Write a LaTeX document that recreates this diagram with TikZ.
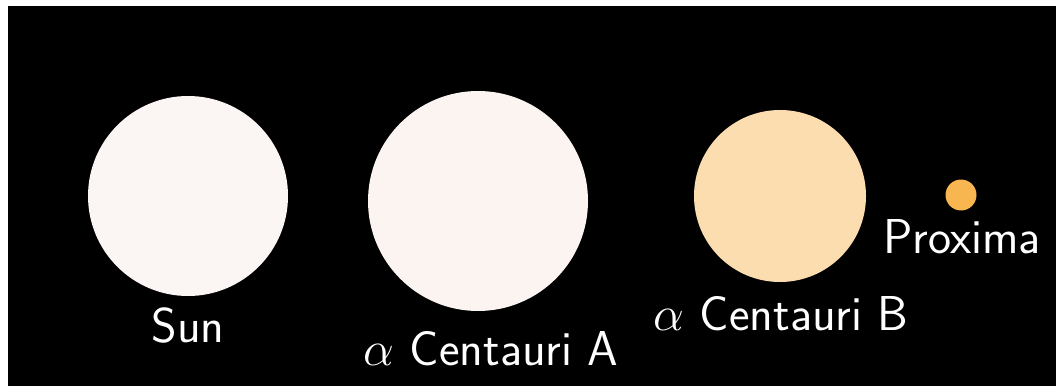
\RequirePackage{fix-cm}
\documentclass[tikz,border=0pt]{standalone}
\usepackage{fontspec}
\begin{document}
\begin{tikzpicture}[x=1pt,y=1pt,
  star/.style={circle,inner sep=0pt,minimum size=#1,draw=none},
  lbl/.style={anchor=base,text=white,font=\sffamily\fontsize{49}{52}\selectfont,inner sep=0pt}]
\useasboundingbox (0,0) rectangle (1056,386);
\fill[white] (0,0) rectangle (1056,386);
\fill[black] (8,0) rectangle (1056,380);
\node[star=200pt,fill={rgb,255:red,251;green,245;blue,243}] (sun) at (188,190) {};
\node[star=220pt,fill={rgb,255:red,252;green,244;blue,240}] (alphaA) at (478,185) {};
\node[star=172pt,fill={rgb,255:red,251;green,221;blue,176}] (alphaB) at (780,190) {};
\node[star=31pt,fill={rgb,255:red,247;green,182;blue,79}] (prox) at (961,191) {};
\node[lbl] (sunl) at (188,44) {Sun};
\node[lbl] (al) at (491,21) {$\alpha$ Centauri A};
\node[lbl] (bl) at (781,56) {$\alpha$ Centauri B};
\node[lbl] (pl) at (962,133) {Proxima};
\end{tikzpicture}
\end{document}
